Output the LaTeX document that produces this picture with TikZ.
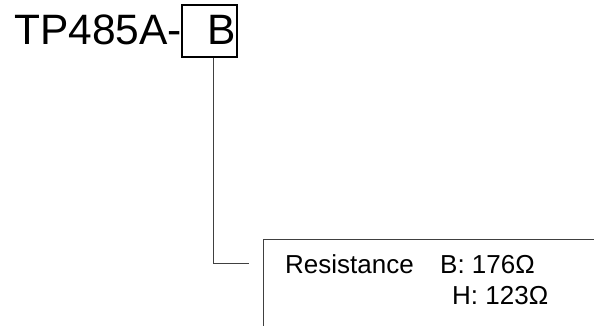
\documentclass[tikz,border=0pt]{standalone}
\usepackage{fontspec}
\setmainfont{Liberation Sans}
\usetikzlibrary{positioning}

\begin{document}
\begin{tikzpicture}[
        x=1pt, y=1pt,
        every node/.style={inner sep=0pt, font=\fontsize{26}{30}\selectfont}, % Callout text
        bigtext/.style={font=\fontsize{42.5}{48}\selectfont}, % Part number text
        partbox/.style={draw, line width=1.3pt, minimum width=55pt, minimum height=52pt}, % Box round the variant
        leader/.style={draw=black!75, line width=0.9pt} % Leader lines
    ]
    \useasboundingbox (0,0) rectangle (594,-326);

    % Part number
    \node (code) [bigtext, anchor=base west] at (14,-45) {TP485A-};
    \node (sel) [partbox] at (209.5,-31) {};
    \node (selb) [bigtext, anchor=base] at (222,-45) {B};

    % Leader line
    \coordinate (bend) at (213,-263);
    \coordinate (tip) at (249,-263);
    \draw[leader] (sel.south -| bend) -- (bend) -- (tip);

    % Callout frame
    \coordinate (frameNE) at (594,-239);
    \coordinate (frameNW) at (263,-239);
    \coordinate (frameSW) at (263,-326);
    \draw[leader] (frameNE) -- (frameNW) -- (frameSW);

    % Callout text
    \node (res) [anchor=base west] at (285,-273) {Resistance};
    \node (bval) [anchor=base west] at (440,-273) {B: 176Ω};
    \node (hval) [anchor=base west] at (452,-304) {H: 123Ω};

\end{tikzpicture}
\end{document}
